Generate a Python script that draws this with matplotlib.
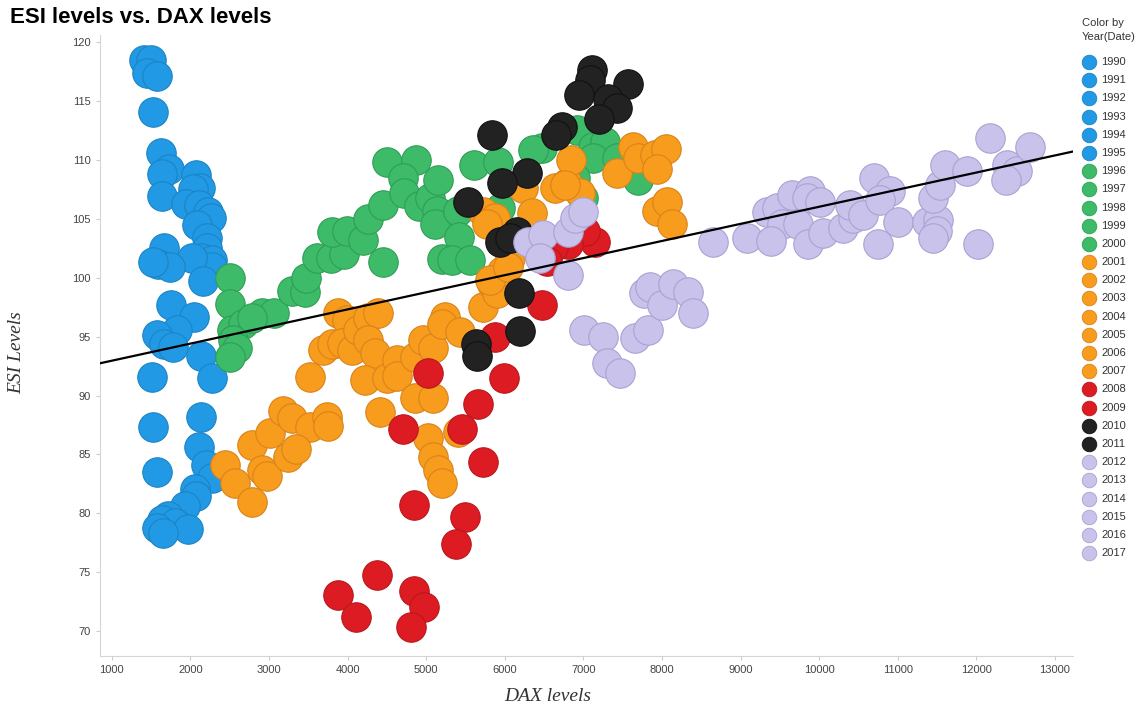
import numpy as np
import matplotlib
matplotlib.use("Agg")
import matplotlib.pyplot as plt
from matplotlib.lines import Line2D

# ── data: (DAX level, ESI level) pairs grouped by period ─────────────────────
pts_1990_1995 = [
    (1410, 118.5), (1500, 118.5), (1450, 117.4), (1570, 117.1), (1530, 114.1),
    (1620, 110.6), (1730, 109.2), (1640, 108.8), (1640, 106.9), (2070, 108.7),
    (2120, 107.6), (2030, 107.5), (1940, 106.3), (2110, 106.2), (2230, 105.6),
    (2260, 105.1), (2080, 104.5), (2210, 103.4), (2210, 102.5), (2130, 101.7),
    (2270, 101.5), (2270, 100.9), (2020, 101.7), (2160, 99.7), (1660, 102.5),
    (1590, 101.2), (1740, 100.9), (1520, 101.3), (1750, 97.7), (2040, 96.7),
    (1830, 95.6), (1570, 95.1), (1670, 94.4), (1780, 94.1), (2140, 93.4),
    (1510, 91.6), (2270, 91.5), (2140, 88.2), (1520, 87.3), (2110, 85.6),
    (2200, 84.1), (2280, 83.0), (1570, 83.5), (2060, 82.1), (2070, 81.5),
    (1930, 80.6), (1710, 79.8), (1640, 79.4), (1810, 79.2), (1970, 78.7),
    (1570, 78.8), (1650, 78.3),
]
pts_1996_2000 = [
    (2500, 100.0), (2500, 97.8), (2530, 95.6), (2670, 96.1), (2540, 94.7),
    (2590, 94.0), (2500, 93.3), (2910, 97.0), (3060, 97.0), (2790, 96.6),
    (3290, 98.9), (3460, 98.8), (3470, 100.0), (3610, 101.7), (3790, 101.7),
    (3950, 102.0), (3800, 103.9), (3990, 104.0), (4190, 103.2), (4260, 105.0),
    (4450, 106.2), (4450, 101.3), (4500, 109.8), (4870, 110.0), (4700, 108.5),
    (4720, 107.2), (4910, 106.1), (5050, 106.8), (5150, 108.3), (5140, 105.7),
    (5110, 104.6), (5400, 105.7), (5420, 103.5), (5200, 101.6), (5330, 101.5),
    (5560, 101.5), (5610, 109.6), (5910, 109.8), (5940, 105.9), (6470, 111.0),
    (6360, 110.8), (6920, 112.5), (7120, 111.1), (7270, 111.5), (7120, 110.2),
    (7430, 110.2), (7690, 108.3), (6890, 108.5), (6990, 106.8),
]
pts_2001_2007 = [
    (2440, 84.1), (2570, 82.6), (2780, 81.0), (2790, 85.8), (3010, 86.8),
    (3180, 88.7), (3290, 88.1), (3520, 87.3), (3740, 88.2), (3750, 87.4),
    (2910, 83.7), (2970, 83.2), (3240, 84.8), (3350, 85.5), (3520, 91.6),
    (3880, 97.0), (3990, 96.4), (3690, 93.9), (3800, 94.4), (3930, 94.5),
    (4050, 93.9), (4130, 95.6), (4260, 96.6), (4390, 97.0), (4260, 94.7),
    (4350, 93.6), (4220, 91.3), (4500, 91.5), (4630, 93.0), (4630, 91.7),
    (4860, 93.3), (4960, 94.7), (5090, 94.0), (4860, 89.8), (5090, 89.8),
    (4410, 88.6), (5020, 86.4), (5090, 84.8), (5150, 83.7), (5200, 82.6),
    (5400, 86.9), (5240, 96.7), (5200, 96.1), (5430, 95.4), (5720, 97.5),
    (5840, 99.5), (5900, 98.7), (5960, 100.6), (6070, 101.7), (5810, 99.8),
    (6040, 100.9), (5720, 105.6), (5870, 105.1), (5770, 104.6), (6230, 107.6),
    (6350, 105.5), (6640, 107.6), (6790, 108.0), (6960, 107.2), (6840, 110.0),
    (6770, 107.9), (7430, 108.9), (7630, 111.1), (7690, 110.2), (7910, 110.4),
    (8050, 110.9), (7940, 109.2), (7940, 105.7), (8060, 106.4), (8130, 104.6),
]
pts_2008_2009 = [
    (5020, 91.9), (4700, 87.2), (5450, 87.2), (5720, 84.4), (5660, 89.3),
    (5990, 91.5), (5870, 95.0), (6470, 97.7), (4840, 80.7), (5490, 79.7),
    (5380, 77.4), (4370, 74.8), (3880, 73.1), (4110, 71.2), (4840, 73.4),
    (4970, 72.1), (4810, 70.4), (7150, 103.0), (7020, 104.0), (6800, 102.9),
    (6610, 102.6), (6540, 101.4),
]
pts_2010_2011 = [
    (7110, 117.6), (7080, 116.8), (6940, 115.5), (7570, 116.4), (7310, 115.2),
    (7430, 114.4), (7200, 113.5), (6730, 112.8), (6650, 112.1), (5840, 112.1),
    (6280, 108.9), (5960, 108.0), (5530, 106.4), (5940, 103.0), (6150, 103.9),
    (6070, 103.4), (6180, 98.7), (6190, 95.5), (5630, 94.4), (5650, 93.4),
]
pts_2012_2017 = [
    (6290, 103.0), (6490, 103.6), (6450, 101.7), (6800, 103.9), (6890, 105.1),
    (6990, 105.6), (6800, 100.2), (7010, 95.6), (7250, 95.0), (7300, 92.8),
    (7470, 91.9), (7660, 94.9), (7820, 95.6), (7770, 98.7), (7850, 99.2),
    (8000, 97.7), (8140, 99.5), (8330, 98.8), (8390, 97.0), (8650, 103.0),
    (9080, 103.4), (9340, 105.6), (9460, 105.9), (9650, 107.0), (9880, 107.4),
    (9850, 106.8), (10010, 106.4), (9530, 104.6), (9730, 104.6), (9390, 103.1),
    (9860, 102.9), (10050, 103.8), (10300, 104.2), (10430, 105.1), (10390, 106.2),
    (10560, 105.3), (10700, 108.5), (10900, 107.4), (10770, 106.6), (10750, 102.9),
    (11000, 104.7), (11370, 104.7), (11510, 104.9), (11500, 104.0), (11450, 103.4),
    (11450, 106.8), (11540, 107.9), (11600, 109.6), (11880, 109.1), (12020, 102.9),
    (12170, 111.9), (12390, 109.6), (12520, 109.1), (12380, 108.3), (12680, 111.1),
]

years = list(range(1990, 2018))
# period -> (first year, last year, fill colour, edge colour)
periods = [
    (pts_1990_1995, 1990, 1995, "#2299e4", "#1b84c4"),
    (pts_1996_2000, 1996, 2000, "#3dbb68", "#2e9e55"),
    (pts_2001_2007, 2001, 2007, "#f89c1e", "#d8831a"),
    (pts_2008_2009, 2008, 2009, "#dc1c22", "#b8171c"),
    (pts_2010_2011, 2010, 2011, "#222222", "#111111"),
    (pts_2012_2017, 2012, 2017, "#c9c2ea", "#aaa2d2"),
]

x_ticks = list(range(1000, 14000, 1000))
y_ticks = list(range(70, 125, 5))

plt.rcParams["font.family"] = ["Liberation Sans", "DejaVu Sans"]

fig = plt.figure(figsize=(11.47, 7.07), dpi=100)
ax = fig.add_axes([100 / 1147, 1 - 656 / 707, 973 / 1147, 621 / 707])

for pts, y0, y1, fc, ec in periods:
    arr = np.array(pts, dtype=float)
    ax.scatter(arr[:, 0], arr[:, 1], s=450, c=fc, edgecolors=ec,
               linewidths=0.8, zorder=2)

# linear trend over all points
all_pts = np.vstack([np.array(p[0], dtype=float) for p in periods])
slope, icpt = np.polyfit(all_pts[:, 0], all_pts[:, 1], 1)
xl = np.array([850, 13230])
ax.plot(xl, slope * xl + icpt, color="black", lw=1.6, zorder=5)

ax.set_xlim(850, 13230)
ax.set_ylim(67.9, 120.6)
ax.set_xticks(x_ticks)
ax.set_yticks(y_ticks)
ax.tick_params(labelsize=8, labelcolor="#444444", color="#cccccc",
               length=3, width=0.8)
for side in ["top", "right"]:
    ax.spines[side].set_visible(False)
for side in ["left", "bottom"]:
    ax.spines[side].set_color("#d5d5d5")

ax.set_xlabel("DAX levels", family=["Liberation Serif"], style="italic",
              fontsize=14, color="#333333")
ax.set_ylabel("ESI Levels", family=["Liberation Serif"], style="italic",
              fontsize=14, color="#333333")
ax.xaxis.set_label_coords(0.46, -0.052)
ax.yaxis.set_label_coords(-0.077, 0.488)

fig.text(10 / 1147, 1 - 7 / 707, "ESI levels vs. DAX levels",
         fontsize=16, weight="bold", va="top", ha="left")

# legend, one row per year
fig.text(1082 / 1147, 1 - 18 / 707, "Color by\nYear(Date)", fontsize=8,
         color="#333333", va="top", ha="left", linespacing=1.45)
for i, yr in enumerate(years):
    fc, ec = next((p[3], p[4]) for p in periods if p[1] <= yr <= p[2])
    yy = 1 - (62 + i * 18.19) / 707
    fig.add_artist(Line2D([1089 / 1147], [yy], transform=fig.transFigure,
                          marker="o", markersize=10.5, markerfacecolor=fc,
                          markeredgecolor=ec, markeredgewidth=0.6, ls=""))
    fig.text(1101 / 1147, yy, str(yr), fontsize=8, color="#333333",
             va="center", ha="left")

fig.savefig("out.png", dpi=100)
